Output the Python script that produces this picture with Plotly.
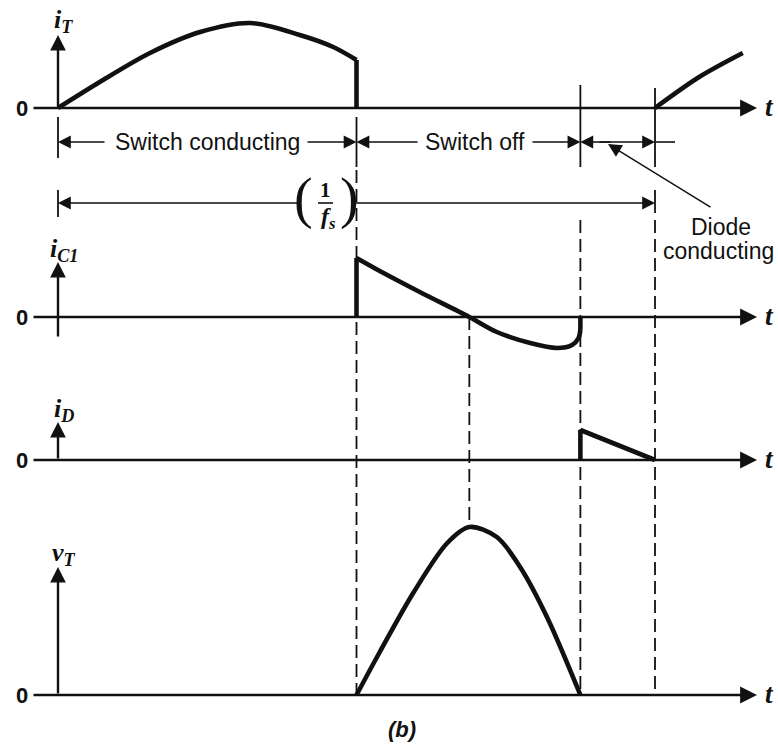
import plotly.graph_objects as go

W, H = 778, 748

# Switching instants over one period (time normalised so that 1/fs = 100)
T_OFF = 50.0       # switch turned off
T_ZERO = 68.9      # capacitor current crosses zero, v_T at its peak
T_DIODE = 87.5     # v_T back to zero, diode starts conducting
T_PERIOD = 100.0   # switch conducts again

# Waveform samples: time and amplitude (arbitrary units)
iT_t = [0.0, 7.0, 15.4, 23.8, 32.2, 40.5, 46.1, 50.0]
iT_v = [0, 26, 55, 76, 85, 73, 61, 48]
iT_next_t = [100.0, 107.4, 114.7]
iT_next_v = [0, 31, 55]

iC1_t = [50.0, 53.9, 60.6, 68.9, 73.5, 79.1, 83.6, 86.1, 87.2, 87.5]
iC1_v = [59, 46, 25, 0, -15, -26, -31, -28, -21, -12]

iD_t = [87.5, 100.0]
iD_v = [30, 0]

vT_t = [50.0, 53.9, 59.5, 65.2, 68.9, 73.5, 77.4, 81.9, 87.5]
vT_v = [0, 43, 102, 152, 168, 158, 128, 78, 0]

# Panel names (letter, subscript)
panel_names = [("i", "T"), ("i", "C1"), ("i", "D"), ("v", "T")]

# ---- page geometry -------------------------------------------------------
X0_PX = 58.0          # pixel column of t = 0
PX_PER_T = 5.97       # pixels per time unit
BASE = [108, 317, 460, 695]       # pixel row of each panel's zero line
Y_ARROW_TOP = [73, 55, 38, 128]   # height of each vertical axis arrow
Y_ARROW_BOTTOM = [0, -21, 0, 0]
LABEL_H = [87, 67, 50, 141]       # height of each panel label

AX = ["y", "y2", "y3", "y4"]


def t_px(px):
    """time coordinate of a pixel column"""
    return (px - X0_PX) / PX_PER_T


def row(px):
    """panel-1 coordinate of a pixel row"""
    return BASE[0] - px


def in_row1(k, a):
    """amplitude a of panel k expressed in panel-1 coordinates"""
    return BASE[0] - (BASE[k] - a)


INK = "#111111"
SANS = "Liberation Sans, Arial, sans-serif"
SERIF = "Liberation Serif, Times New Roman, serif"

fig = go.Figure()

thick = dict(color=INK, width=4.6)


def curve(x, y, k, shape="spline"):
    fig.add_trace(go.Scatter(x=x, y=y, mode="lines", yaxis=AX[k],
                             line=dict(thick, shape=shape, smoothing=0.9),
                             hoverinfo="skip", showlegend=False))


# i_T
curve(iT_t, iT_v, 0)
curve([iT_t[-1], iT_t[-1]], [iT_v[-1], 0], 0, "linear")
curve(iT_next_t, iT_next_v, 0)
# i_C1
curve([iC1_t[0], iC1_t[0]], [0, iC1_v[0]], 1, "linear")
curve(iC1_t, iC1_v, 1)
curve([iC1_t[-1], iC1_t[-1]], [iC1_v[-1], 0], 1, "linear")
# i_D
curve([iD_t[0], iD_t[0]], [0, iD_v[0]], 2, "linear")
curve(iD_t, iD_v, 2, "linear")
# v_T
curve(vT_t, vT_v, 3)

annotations = []
shapes = []


def arrow(x_tip, y_tip, x_tail, y_tail, yref="y", width=1.6, size=1.6, head=2):
    annotations.append(dict(
        x=x_tip, y=y_tip, ax=x_tail, ay=y_tail, xref="x", yref=yref,
        axref="x", ayref=yref, text="", showarrow=True, arrowhead=head,
        arrowsize=size, arrowwidth=width, arrowcolor=INK, standoff=0,
        startstandoff=0))


def text(x, y, s, size, family=SANS, yref="y", xanchor="center"):
    annotations.append(dict(x=x, y=y, xref="x", yref=yref, text=s,
                            showarrow=False, xanchor=xanchor, yanchor="middle",
                            font=dict(family=family, size=size, color=INK)))


def vline(x, y0, y1, dash="solid", width=1.8):
    shapes.append(dict(type="line", xref="x", yref="y", x0=x, x1=x,
                       y0=y0, y1=y1, line=dict(color=INK, width=width, dash=dash)))


# axes of the four panels
for k in range(4):
    arrow(t_px(757), 0, t_px(32), 0, yref=AX[k], width=2.6, size=1.3)
    arrow(0, Y_ARROW_TOP[k], 0, Y_ARROW_BOTTOM[k], yref=AX[k], width=2.4, size=1.3)
    text(t_px(22), 0, "<b>0</b>", 22, yref=AX[k])
    text(t_px(769), 1, "<b><i>t</i></b>", 27, family=SERIF, yref=AX[k])
    letter, sub = panel_names[k]
    text(1, LABEL_H[k],
         f"<b><i>{letter}</i></b><sub><b><i>{sub}</i></b></sub>", 26,
         family=SERIF, yref=AX[k])

# dashed projection lines between panels
dash = "13px,6px"
vline(T_OFF, row(170), in_row1(3, 0), dash)
vline(T_ZERO, in_row1(1, 0), in_row1(3, max(vT_v)), dash)
vline(T_DIODE, row(220), in_row1(3, 0), dash)
vline(T_PERIOD, row(220), in_row1(3, 0), dash)

# solid extension ticks for the interval markers
vline(0, row(117), row(158))
vline(0, row(190), row(217))
vline(T_OFF, row(117), row(167))
vline(T_DIODE, row(85), row(167))
vline(T_PERIOD, row(88), row(167))
vline(T_PERIOD, row(190), row(213))

# interval markers
ym = row(142)
text(t_px(207), ym, "Switch conducting", 23)
arrow(0, ym, t_px(106), ym)
arrow(T_OFF, ym, t_px(306), ym)
text(t_px(475), ym, "Switch off", 23)
arrow(T_OFF, ym, t_px(419), ym)
arrow(T_DIODE, ym, t_px(531), ym)
arrow(T_DIODE, ym, t_px(612), ym)
arrow(T_PERIOD, ym, t_px(598), ym)
shapes.append(dict(type="line", xref="x", yref="y", x0=T_PERIOD, x1=t_px(675),
                   y0=ym, y1=ym, line=dict(color=INK, width=1.6)))
arrow(t_px(608), row(144), t_px(712), row(208), width=1.5, size=1.8)
text(t_px(721), row(227), "Diode", 23)
text(t_px(718), row(251), "conducting", 23)

# switching period 1/fs
yp = row(203)
arrow(0, yp, t_px(299), yp)
arrow(T_PERIOD, yp, t_px(352), yp)
text(t_px(303), row(198), "(", 56, family=SERIF)
text(t_px(349), row(198), ")", 56, family=SERIF)
text(t_px(325), row(190), "<b>1</b>", 21, family=SERIF)
text(t_px(328), row(218), "<b><i>f</i></b><sub><b><i>s</i></b></sub>", 24, family=SERIF)
shapes.append(dict(type="line", xref="x", yref="y", x0=t_px(318), x1=t_px(333),
                   y0=yp, y1=yp, line=dict(color=INK, width=1.6)))

text(t_px(402), row(729), "<b><i>(b)</i></b>", 22, family=SANS)

fig.update_layout(
    width=W, height=H, margin=dict(l=0, r=0, t=0, b=0, pad=0),
    paper_bgcolor="white", plot_bgcolor="white",
    showlegend=False, annotations=annotations, shapes=shapes,
    xaxis=dict(range=[t_px(0), t_px(W)], visible=False, fixedrange=True),
)
for k in range(4):
    name = "yaxis" if k == 0 else f"yaxis{k + 1}"
    spec = dict(range=[BASE[k] - H, BASE[k]], visible=False, fixedrange=True,
                domain=[0, 1])
    if k:
        spec["overlaying"] = "y"
    fig.update_layout(**{name: spec})

fig.write_html("out.html")
